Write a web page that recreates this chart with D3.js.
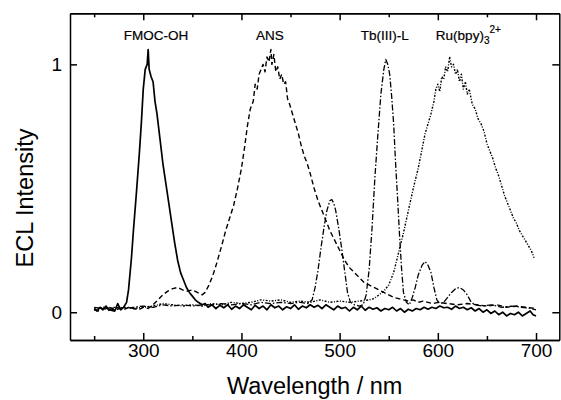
<!DOCTYPE html>
<html lang="en">
<head>
<meta charset="UTF-8">
<title>ECL spectra</title>
<script src="https://cdn.jsdelivr.net/npm/d3@7"></script>
<style>
    body { margin: 0; background: #fff; }
    svg text { font-family: "Liberation Sans", Arial, sans-serif; fill: #000; }
    .axis path, .axis line { stroke: #000; stroke-width: 1.5; }
    .curve { fill: none; stroke: #000; stroke-linejoin: round; }
</style>
</head>
<body>
<div class="chart"></div>
<script>
// [wavelength nm, ECL intensity]
var fmoc = [[250,0.015],[253,0.005],[256,0.02],[259,0.01],[262,0.025],[265,0.008],[268,0.015],[271,0.005],[274,0.035],[277,0.01],[280,0.02],[283,0.04],[285,0.09],[288,0.22],[290,0.33],[293,0.48],[296,0.64],[298,0.76],[300,0.9],[302,0.98],[304,1.0],[305,1.06],[306,0.98],[308,0.95],[310,0.93],[312,0.85],[314,0.8],[317,0.7],[320,0.6],[323,0.52],[326,0.44],[329,0.36],[332,0.28],[335,0.21],[338,0.16],[341,0.13],[344,0.1],[347,0.08],[350,0.065],[353,0.05],[356,0.04],[360,0.03],[363,0.035],[366,0.02],[370,0.03],[374,0.015],[378,0.028],[382,0.018],[386,0.03],[390,0.012],[394,0.025],[398,0.015],[402,0.03],[406,0.02],[410,0.01],[414,0.028],[418,0.015],[422,0.025],[426,0.01],[430,0.03],[434,0.018],[438,0.025],[442,0.01],[446,0.022],[450,0.015],[454,0.03],[458,0.012],[462,0.025],[466,0.018],[470,0.03],[474,0.02],[478,0.028],[482,0.015],[486,0.03],[490,0.02],[494,0.01],[498,0.025],[502,0.015],[506,0.02],[510,0.005],[514,0.02],[518,0.01],[522,0.025],[526,0.008],[530,0.02],[534,0.012],[538,0.018],[542,0.005],[546,0.015],[550,0.01],[554,0.02],[558,0.005],[562,0.015],[566,0.0],[570,0.012],[574,0.005],[578,0.015],[582,0.01],[586,0.02],[590,0.012],[594,0.02],[598,0.015],[602,0.025],[606,0.018],[610,0.02],[614,0.012],[618,0.025],[622,0.015],[626,0.02],[630,0.01],[634,0.018],[638,0.005],[642,0.015],[646,0.0],[650,0.01],[654,-0.005],[658,0.005],[662,-0.01],[666,0.0],[670,-0.015],[674,-0.005],[678,-0.01],[682,0.0],[686,-0.015],[690,-0.005],[694,0.005],[697,-0.01],[700,-0.015]];

var ans = [[250,0.01],[255,0.005],[260,0.015],[265,0.01],[270,0.005],[275,0.015],[280,0.01],[285,0.02],[290,0.015],[295,0.01],[300,0.02],[305,0.015],[310,0.03],[315,0.05],[320,0.07],[325,0.085],[330,0.095],[335,0.1],[340,0.09],[345,0.085],[350,0.09],[355,0.08],[360,0.07],[363,0.08],[367,0.11],[371,0.15],[375,0.2],[380,0.27],[384,0.33],[388,0.38],[392,0.43],[396,0.5],[400,0.58],[403,0.66],[406,0.75],[409,0.82],[412,0.85],[414,0.92],[416,0.9],[418,0.96],[420,0.98],[422,1.0],[424,0.97],[426,1.03],[428,1.01],[430,1.06],[431,1.0],[433,1.04],[435,0.97],[437,0.99],[439,0.94],[441,0.96],[443,0.92],[445,0.93],[447,0.86],[449,0.84],[452,0.8],[455,0.76],[458,0.72],[461,0.67],[464,0.63],[467,0.6],[470,0.56],[474,0.5],[478,0.45],[482,0.41],[486,0.37],[490,0.33],[495,0.29],[500,0.25],[505,0.21],[510,0.18],[515,0.16],[520,0.14],[525,0.12],[530,0.11],[535,0.1],[540,0.09],[545,0.08],[550,0.07],[555,0.06],[560,0.055],[565,0.05],[570,0.045],[575,0.05],[580,0.04],[585,0.045],[590,0.04],[595,0.035],[600,0.04],[610,0.035],[620,0.03],[630,0.035],[640,0.03],[650,0.025],[660,0.03],[670,0.02],[680,0.025],[690,0.02],[700,0.015]];

var tb = [[250,0.02],[260,0.015],[270,0.02],[280,0.015],[290,0.02],[300,0.025],[310,0.02],[320,0.03],[330,0.025],[340,0.03],[350,0.025],[360,0.03],[370,0.03],[380,0.035],[390,0.03],[400,0.035],[410,0.03],[420,0.04],[430,0.035],[440,0.04],[450,0.035],[460,0.04],[468,0.035],[472,0.05],[475,0.1],[478,0.17],[481,0.26],[484,0.34],[487,0.41],[490,0.45],[492,0.455],[494,0.44],[496,0.41],[499,0.34],[502,0.26],[505,0.17],[508,0.08],[511,0.04],[515,0.03],[520,0.025],[524,0.03],[527,0.07],[530,0.17],[533,0.34],[536,0.55],[539,0.72],[542,0.88],[545,0.98],[547,1.02],[549,1.0],[551,0.96],[553,0.87],[555,0.76],[557,0.6],[559,0.46],[561,0.31],[563,0.18],[565,0.08],[568,0.04],[571,0.03],[574,0.06],[577,0.1],[580,0.15],[584,0.19],[587,0.205],[590,0.19],[593,0.16],[596,0.1],[599,0.05],[602,0.035],[606,0.04],[610,0.06],[614,0.08],[618,0.095],[622,0.1],[626,0.09],[630,0.07],[634,0.04],[638,0.03],[645,0.025],[655,0.03],[665,0.02],[675,0.025],[685,0.02],[695,0.015],[700,0.01]];

var ru = [[250,0.01],[260,0.02],[270,0.015],[280,0.02],[290,0.015],[300,0.02],[310,0.025],[320,0.035],[330,0.03],[340,0.025],[350,0.03],[360,0.025],[370,0.035],[380,0.03],[390,0.04],[400,0.035],[410,0.04],[420,0.05],[430,0.045],[440,0.05],[450,0.04],[460,0.045],[470,0.04],[480,0.05],[490,0.04],[500,0.045],[510,0.04],[520,0.045],[530,0.05],[535,0.055],[540,0.07],[545,0.085],[550,0.11],[555,0.16],[560,0.24],[565,0.32],[570,0.41],[575,0.5],[580,0.58],[584,0.66],[587,0.72],[590,0.76],[593,0.8],[596,0.85],[598,0.9],[600,0.92],[602,0.89],[604,0.95],[606,0.94],[608,0.99],[610,0.97],[612,1.03],[614,0.99],[616,1.0],[618,0.96],[620,0.98],[622,0.93],[624,0.96],[626,0.9],[628,0.93],[630,0.88],[632,0.9],[635,0.84],[638,0.82],[641,0.78],[644,0.76],[647,0.73],[650,0.68],[653,0.65],[656,0.62],[659,0.58],[662,0.55],[665,0.51],[668,0.47],[671,0.44],[674,0.41],[677,0.38],[680,0.36],[683,0.33],[686,0.31],[689,0.29],[692,0.27],[695,0.25],[698,0.22]];

var xMajor = [300, 400, 500, 600, 700];
var xMinor = [250, 350, 450, 550, 650];
var yTicks = [0, 1];

// label text and the wavelength/intensity it sits over
var labelNames = ["FMOC-OH", "ANS", "Tb(III)-L", "Ru(bpy)"];
var labelPos = [[313, 1.10], [429, 1.10], [546, 1.10], [598, 1.10]];

(function()
{
    "use strict";

    var width = 561, height = 400;
    var margin = { top: 13.3, right: 1.7, bottom: 60, left: 70 };

    var x = d3.scaleLinear().domain([225.4, 723.7]).range([margin.left, width - margin.right]);
    var y = d3.scaleLinear().domain([-0.112, 1.206]).range([height - margin.bottom, margin.top]);

    var svg = d3.select(".chart").append("svg")
        .attr("width", width)
        .attr("height", height)
        .attr("viewBox", [0, 0, width, height].join(" "));

    var line = d3.line()
        .x(function(d) { return x(d[0]); })
        .y(function(d) { return y(d[1]); });

    var series = [
        { data: fmoc, dash: null,          w: 1.7 },
        { data: ans,  dash: "5,3",         w: 1.4 },
        { data: tb,   dash: "6,2,1.5,2",   w: 1.3 },
        { data: ru,   dash: "2,1.5,1,1.5", w: 1.4 }
    ];

    svg.selectAll("path.curve").data(series).enter().append("path")
        .attr("class", "curve")
        .attr("d", function(d) { return line(d.data); })
        .attr("stroke-width", function(d) { return d.w; })
        .attr("stroke-dasharray", function(d) { return d.dash; });

    var y0 = height - margin.bottom, x1 = width - margin.right;

    // frame axes, ticks inward
    svg.append("g").attr("class", "axis")
        .attr("transform", "translate(0," + y0 + ")")
        .call(d3.axisBottom(x).tickValues(xMajor).tickSize(-7).tickPadding(4).tickSizeOuter(0))
        .call(function(g) { g.selectAll("text").attr("font-size", 19); });
    svg.append("g").attr("class", "axis")
        .attr("transform", "translate(0," + y0 + ")")
        .call(d3.axisBottom(x).tickValues(xMinor).tickSize(-4).tickFormat("").tickSizeOuter(0));
    svg.append("g").attr("class", "axis")
        .attr("transform", "translate(0," + margin.top + ")")
        .call(d3.axisTop(x).tickValues(xMajor).tickSize(-7).tickFormat("").tickSizeOuter(0));
    svg.append("g").attr("class", "axis")
        .attr("transform", "translate(0," + margin.top + ")")
        .call(d3.axisTop(x).tickValues(xMinor).tickSize(-4).tickFormat("").tickSizeOuter(0));
    svg.append("g").attr("class", "axis")
        .attr("transform", "translate(" + margin.left + ",0)")
        .call(d3.axisLeft(y).tickValues(yTicks).tickSize(-7).tickPadding(8).tickSizeOuter(0).tickFormat(d3.format("d")))
        .call(function(g) { g.selectAll("text").attr("font-size", 19); });
    svg.append("g").attr("class", "axis")
        .attr("transform", "translate(" + x1 + ",0)")
        .call(d3.axisRight(y).tickValues(yTicks).tickSize(-7).tickFormat("").tickSizeOuter(0));

    svg.selectAll(".axis .domain").attr("stroke-width", 1.8);

    // curve labels
    var labels = svg.selectAll("text.lab").data(labelNames).enter().append("text")
        .attr("class", "lab")
        .attr("x", function(d, i) { return x(labelPos[i][0]); })
        .attr("y", function(d, i) { return y(labelPos[i][1]); })
        .attr("text-anchor", function(d, i) { return i === 3 ? "start" : "middle"; })
        .attr("font-size", 13.5)
        .attr("stroke", "#000")
        .attr("stroke-width", 0.2)
        .text(function(d) { return d; });

    var ruLab = labels.filter(function(d, i) { return i === 3; });
    ruLab.append("tspan").attr("font-size", 10).attr("dy", 4).text("3");
    ruLab.append("tspan").attr("font-size", 10).attr("dy", -11).text("2+");

    svg.append("text")
        .attr("x", (margin.left + x1) / 2)
        .attr("y", 394)
        .attr("text-anchor", "middle")
        .attr("font-size", 23.5)
        .text("Wavelength / nm");

    svg.append("text")
        .attr("transform", "translate(33,198) rotate(-90)")
        .attr("text-anchor", "middle")
        .attr("font-size", 23.5)
        .text("ECL Intensity");
})();
</script>
</body>
</html>
